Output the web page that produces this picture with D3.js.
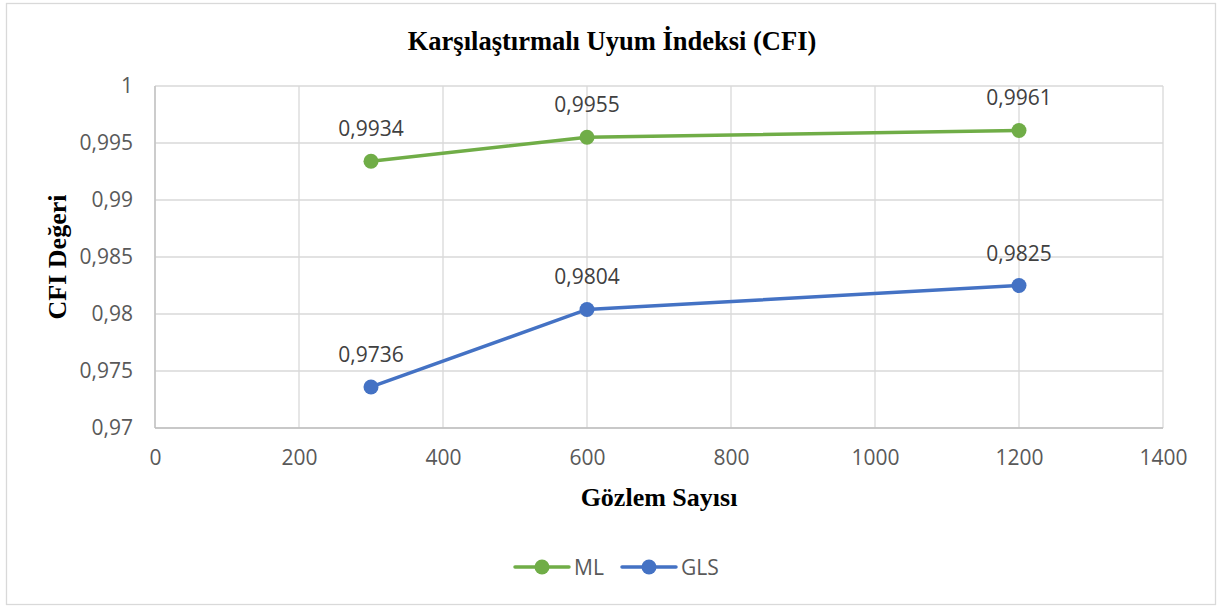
<!DOCTYPE html>
<html>
<head>
<meta charset="utf-8">
<script src="https://cdn.jsdelivr.net/npm/d3@7"></script>
<style>
  body { margin: 0; background: #fff; }
</style>
</head>
<body>
<div id="chart"></div>
<script>
// data
var sampleSizes = [300, 600, 1200];
var mlValues = [0.9934, 0.9955, 0.9961];
var glsValues = [0.9736, 0.9804, 0.9825];
var seriesNames = ["ML", "GLS"];
var xTicks = [0, 200, 400, 600, 800, 1000, 1200, 1400];
var yTicks = [0.97, 0.975, 0.98, 0.985, 0.99, 0.995, 1];

var cfg = {
  w: 1230,
  h: 607,
  margin: {top: 86, right: 67, bottom: 179, left: 155},
  colors: ["#70AD47", "#4472C4"],
  grid: "#d9d9d9",
  text: "#595959"
};

var graphW = cfg.w - cfg.margin.left - cfg.margin.right;
var graphH = cfg.h - cfg.margin.top - cfg.margin.bottom;

var fmt = function(v) { return String(v).replace(".", ","); };

var svg = d3.select("#chart")
  .append("svg")
  .attr("width", cfg.w)
  .attr("height", cfg.h);

// outer chart border
svg.append("rect")
  .attr("x", 6.5).attr("y", 3.5)
  .attr("width", 1209).attr("height", 601)
  .attr("fill", "#fff")
  .attr("stroke", cfg.grid)
  .attr("stroke-width", 1.3);

var g = svg.append("g")
  .attr("transform", "translate(" + cfg.margin.left + "," + cfg.margin.top + ")");

var x = d3.scaleLinear().domain([0, 1400]).range([0, graphW]);
var y = d3.scaleLinear().domain([0.97, 1]).range([graphH, 0]);

// gridlines
g.append("g").selectAll("line.h")
  .data(yTicks)
  .enter().append("line")
  .attr("x1", 0).attr("x2", graphW)
  .attr("y1", function(d) { return y(d); })
  .attr("y2", function(d) { return y(d); })
  .attr("stroke", cfg.grid)
  .attr("stroke-width", 1.3);

g.append("g").selectAll("line.v")
  .data(xTicks)
  .enter().append("line")
  .attr("y1", 0).attr("y2", graphH)
  .attr("x1", function(d) { return x(d); })
  .attr("x2", function(d) { return x(d); })
  .attr("stroke", cfg.grid)
  .attr("stroke-width", 1.3);

// axis lines slightly darker
g.append("line")
  .attr("x1", 0).attr("x2", graphW)
  .attr("y1", graphH).attr("y2", graphH)
  .attr("stroke", "#bfbfbf").attr("stroke-width", 1.3);
g.append("line")
  .attr("x1", 0).attr("x2", 0)
  .attr("y1", 0).attr("y2", graphH)
  .attr("stroke", "#bfbfbf").attr("stroke-width", 1.3);

// axes (labels only)
var xAxis = g.append("g")
  .attr("transform", "translate(0," + graphH + ")")
  .call(d3.axisBottom(x).tickValues(xTicks).tickSize(0).tickPadding(22).tickFormat(d3.format("d")));
var yAxis = g.append("g")
  .call(d3.axisLeft(y).tickValues(yTicks).tickSize(0).tickPadding(22).tickFormat(fmt));

[xAxis, yAxis].forEach(function(a) {
  a.select(".domain").remove();
  a.selectAll("text")
    .attr("fill", cfg.text)
    .style("font-family", "'Open Sans', sans-serif")
    .style("font-size", "21px");
});

// series
var series = [
  {name: seriesNames[0], values: mlValues, color: cfg.colors[0]},
  {name: seriesNames[1], values: glsValues, color: cfg.colors[1]}
];

var line = d3.line()
  .x(function(d, i) { return x(sampleSizes[i]); })
  .y(function(d) { return y(d); });

series.forEach(function(s) {
  g.append("path")
    .datum(s.values)
    .attr("fill", "none")
    .attr("stroke", s.color)
    .attr("stroke-width", 3.5)
    .attr("stroke-linecap", "round")
    .attr("d", line);

  g.selectAll(null)
    .data(s.values)
    .enter().append("circle")
    .attr("cx", function(d, i) { return x(sampleSizes[i]); })
    .attr("cy", function(d) { return y(d); })
    .attr("r", 7.5)
    .attr("fill", s.color);

  g.selectAll(null)
    .data(s.values)
    .enter().append("text")
    .attr("x", function(d, i) { return x(sampleSizes[i]); })
    .attr("y", function(d) { return y(d) - 25; })
    .attr("text-anchor", "middle")
    .attr("fill", "#404040")
    .style("font-family", "'Open Sans', sans-serif")
    .style("font-size", "21px")
    .text(fmt);
});

// titles
svg.append("text")
  .attr("x", 612).attr("y", 50)
  .attr("text-anchor", "middle")
  .style("font-family", "'Liberation Serif', 'Times New Roman', serif")
  .style("font-weight", "bold")
  .style("font-size", "26.5px")
  .text("Karşılaştırmalı Uyum İndeksi (CFI)");

svg.append("text")
  .attr("x", 659).attr("y", 506)
  .attr("text-anchor", "middle")
  .style("font-family", "'Liberation Serif', 'Times New Roman', serif")
  .style("font-weight", "bold")
  .style("font-size", "26px")
  .text("Gözlem Sayısı");

svg.append("text")
  .attr("transform", "translate(66,257) rotate(-90)")
  .attr("text-anchor", "middle")
  .style("font-family", "'Liberation Serif', 'Times New Roman', serif")
  .style("font-weight", "bold")
  .style("font-size", "26px")
  .text("CFI Değeri");

// legend
var legend = svg.append("g").attr("transform", "translate(515,567)");
var legendX = [0, 107];
series.forEach(function(s, i) {
  var lg = legend.append("g").attr("transform", "translate(" + legendX[i] + ",0)");
  lg.append("line")
    .attr("x1", 0).attr("x2", 54)
    .attr("stroke", s.color)
    .attr("stroke-width", 3.5)
    .attr("stroke-linecap", "round");
  lg.append("circle").attr("cx", 27).attr("r", 7.5).attr("fill", s.color);
  lg.append("text")
    .attr("x", 59).attr("y", 8)
    .attr("fill", cfg.text)
    .style("font-family", "'Open Sans', sans-serif")
    .style("font-size", "21px")
    .text(s.name);
});
</script>
</body>
</html>
